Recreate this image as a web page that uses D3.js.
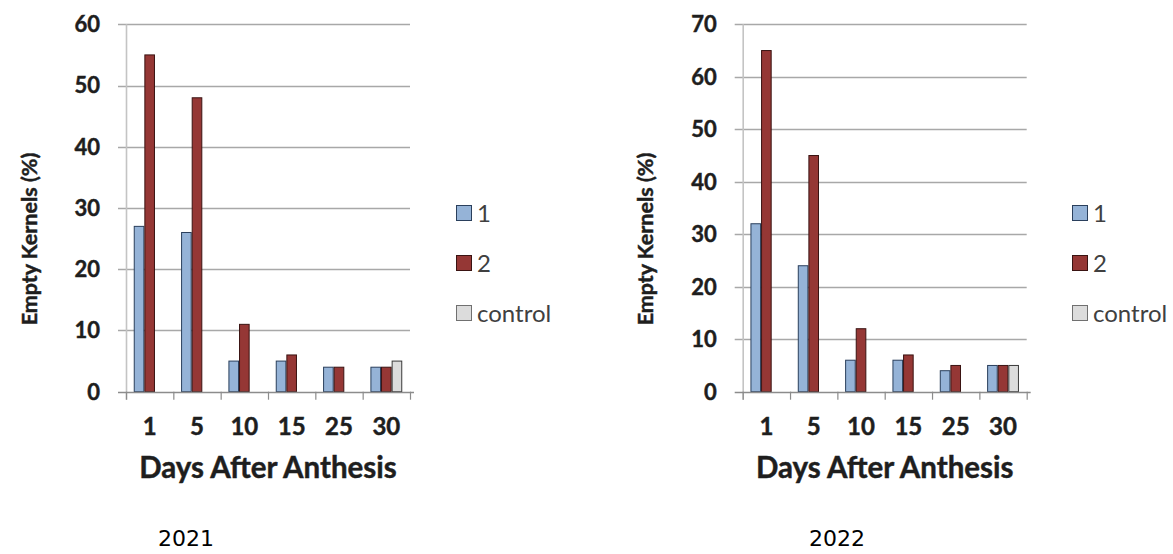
<!DOCTYPE html>
<html>
<head>
<meta charset="utf-8">
<script src="https://cdn.jsdelivr.net/npm/d3@7"></script>
<style>
  html, body { margin: 0; padding: 0; background: #ffffff; }
  svg { display: block; }
</style>
</head>
<body>
<svg id="chart" width="1173" height="554"></svg>
<script>
// Days after anthesis (categories) and series names
const days = ["1", "5", "10", "15", "25", "30"];
const seriesNames = ["1", "2", "control"];

// 2021 season: empty kernels (%)
const s1_2021 = [27, 26, 5, 5, 4, 4];
const s2_2021 = [55, 48, 11, 6, 4, 4];
const ctrl_2021 = [0, 0, 0, 0, 0, 5];

// 2022 season: empty kernels (%)
const s1_2022 = [32, 24, 6, 6, 4, 5];
const s2_2022 = [65, 45, 12, 7, 5, 5];
const ctrl_2022 = [0, 0, 0, 0, 0, 5];

// Tick values on the value axes
const yTicks2021 = [0, 10, 20, 30, 40, 50, 60];
const yTicks2022 = [0, 10, 20, 30, 40, 50, 60, 70];

const fills = { "1": "#95b3d7", "2": "#953735", "control": "#dcdcdc" };
const strokes = { "1": "#2a3f5c", "2": "#3a1312", "control": "#3a3a3a" };

const svg = d3.select("#chart");
const boldFont = "Lato, 'Open Sans', sans-serif";
const ink = "#1e1e1e";

// heavy label helper: bold face thickened with a thin outline
function heavy(sel, size) {
  return sel.attr("font-family", boldFont).attr("font-weight", 700).attr("font-size", size)
    .attr("fill", ink).attr("stroke", ink).attr("stroke-width", 0.45);
}

function panel(opts) {
  const g = svg.append("g");
  const y = d3.scaleLinear().domain([0, opts.yMax]).range([391.7, 24.3]);
  const x0 = d3.scaleBand().domain(days).range([opts.left, opts.right]).paddingInner(0).paddingOuter(0);
  const x1 = d3.scaleBand().domain(seriesNames).range([0, x0.bandwidth()]).paddingInner(0).paddingOuter(0.73);

  // horizontal gridlines (with outward tick stubs)
  g.append("g").selectAll("line").data(opts.ticks.filter(t => t > 0)).join("line")
    .attr("x1", opts.left - 8).attr("x2", opts.right)
    .attr("y1", d => Math.round(y(d)) + 0.5).attr("y2", d => Math.round(y(d)) + 0.5)
    .attr("stroke", "#a8a8a8").attr("stroke-width", 1.4);

  // vertical value axis line
  g.append("line")
    .attr("x1", opts.left + 0.5).attr("x2", opts.left + 0.5)
    .attr("y1", y(opts.yMax)).attr("y2", y(0) + 8)
    .attr("stroke", "#c4c4c4").attr("stroke-width", 1.6);

  // bars
  const rows = days.map((d, i) => ({ day: d, vals: [
    { key: "1", v: opts.s1[i] }, { key: "2", v: opts.s2[i] }, { key: "control", v: opts.ctrl[i] }
  ]}));
  g.append("g").selectAll("g").data(rows).join("g")
    .attr("transform", d => `translate(${x0(d.day)},0)`)
    .selectAll("rect").data(d => d.vals.filter(v => v.v > 0)).join("rect")
    .attr("x", d => x1(d.key) + 0.5)
    .attr("width", x1.bandwidth() - 1)
    .attr("y", d => y(d.v))
    .attr("height", d => y(0) - y(d.v))
    .attr("fill", d => fills[d.key])
    .attr("stroke", d => strokes[d.key])
    .attr("stroke-width", 1);

  // category axis line and tick marks
  const xAxis = g.append("g");
  xAxis.append("line")
    .attr("x1", opts.left - 8).attr("x2", opts.right + 4)
    .attr("y1", Math.round(y(0)) + 0.5).attr("y2", Math.round(y(0)) + 0.5)
    .attr("stroke", "#8c8c8c").attr("stroke-width", 1.4);
  const boundaries = days.map(d => x0(d)).concat([opts.right]);
  xAxis.selectAll("line.tk").data(boundaries).join("line").attr("class", "tk")
    .attr("x1", d => d + 0.5).attr("x2", d => d + 0.5)
    .attr("y1", y(0)).attr("y2", y(0) + 8)
    .attr("stroke", "#8c8c8c").attr("stroke-width", 1.2);

  // value tick labels
  heavy(g.append("g").selectAll("text").data(opts.ticks).join("text")
    .attr("x", opts.left - 26).attr("y", d => y(d))
    .attr("dy", "0.36em")
    .attr("text-anchor", "end"), 22)
    .text(d => d);

  // category tick labels
  heavy(g.append("g").selectAll("text").data(days).join("text")
    .attr("x", d => x0(d) + x0.bandwidth() / 2).attr("y", 435)
    .attr("text-anchor", "middle"), 24)
    .text(d => d);

  // axis titles
  heavy(g.append("text")
    .attr("x", (opts.left + opts.right) / 2).attr("y", 478)
    .attr("text-anchor", "middle"), 29.5)
    .text("Days After Anthesis");
  heavy(g.append("text")
    .attr("transform", `translate(${opts.titleX},239) rotate(-90)`)
    .attr("text-anchor", "middle"), 21.5)
    .text("Empty Kernels (%)");

  // legend
  const lg = g.append("g").attr("transform", `translate(${opts.legendX},0)`);
  const items = lg.selectAll("g").data(seriesNames).join("g")
    .attr("transform", (d, i) => `translate(0,${213 + i * 50})`);
  items.append("rect")
    .attr("x", 0.5).attr("y", -7.5).attr("width", 15).attr("height", 15)
    .attr("fill", d => fills[d]).attr("stroke", d => d === "control" ? "#707070" : strokes[d])
    .attr("stroke-width", 1);
  items.append("text")
    .attr("x", 21).attr("dy", "0.36em")
    .attr("font-family", boldFont).attr("font-size", 24)
    .attr("fill", "#404040")
    .text(d => d);

  // season label
  svg.append("text")
    .attr("x", opts.yearX).attr("y", 546)
    .attr("text-anchor", "middle")
    .attr("font-family", "'DejaVu Sans', Verdana, sans-serif").attr("font-size", 22)
    .attr("fill", "#000000")
    .text(opts.year);
}

panel({ yMax: 60, ticks: yTicks2021, left: 126, right: 410, s1: s1_2021, s2: s2_2021, ctrl: ctrl_2021,
        titleX: 37, legendX: 456, yearX: 186, year: "2021" });
panel({ yMax: 70, ticks: yTicks2022, left: 742.7, right: 1026.7, s1: s1_2022, s2: s2_2022, ctrl: ctrl_2022,
        titleX: 653, legendX: 1072, yearX: 837, year: "2022" });
</script>
</body>
</html>
